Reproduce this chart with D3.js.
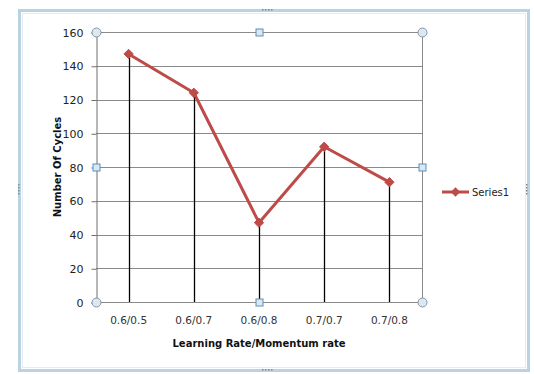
<!DOCTYPE html>
<html>
<head>
<meta charset="utf-8">
<script src="https://cdn.jsdelivr.net/npm/d3@7"></script>
<style>
  html, body { margin: 0; padding: 0; background: #ffffff; }
  svg { display: block; font-family: "DejaVu Sans", Arial, sans-serif; }
</style>
</head>
<body>
<svg id="chart" width="534" height="374"></svg>
<script>
// Category labels (learning rate / momentum rate pairs)
const categories = ["0.6/0.5", "0.6/0.7", "0.6/0.8", "0.7/0.7", "0.7/0.8"];
// Number of cycles for each pair
const cycles = [147, 124, 47, 92, 71];
// Value axis ticks
const yTicks = [0, 20, 40, 60, 80, 100, 120, 140, 160];
const seriesName = "Series1";

const svg = d3.select("#chart");
const plot = { left: 96, right: 422, top: 32, bottom: 302 };
const red = "#be4b48";
const font = "DejaVu Sans, Arial, sans-serif";

// Chart frame
svg.append("rect")
  .attr("x", 19.5).attr("y", 10.5).attr("width", 509).attr("height", 360)
  .attr("fill", "#ffffff").attr("stroke", "#b9d3e2").attr("stroke-width", 3);
svg.append("rect")
  .attr("x", 22.5).attr("y", 13.5).attr("width", 503).attr("height", 354)
  .attr("fill", "none").attr("stroke", "#e3eef4").attr("stroke-width", 1);
// frame grip dots
[[262, 10], [262, 370]].forEach(([gx, gy]) => {
  for (let i = 0; i < 4; i++) {
    svg.append("rect").attr("x", gx + i * 3).attr("y", gy - 1).attr("width", 1.5).attr("height", 1.5).attr("fill", "#7a8a96");
  }
});
[[19, 184], [527, 184]].forEach(([gx, gy]) => {
  for (let i = 0; i < 4; i++) {
    svg.append("rect").attr("x", gx - 1).attr("y", gy + i * 3).attr("width", 1.5).attr("height", 1.5).attr("fill", "#7a8a96");
  }
});

const x = d3.scaleBand().domain(categories).range([plot.left, plot.right]);
const y = d3.scaleLinear().domain([0, 160]).range([plot.bottom, plot.top]);

// Horizontal gridlines
svg.append("g").selectAll("line").data(yTicks).join("line")
  .attr("x1", plot.left).attr("x2", plot.right)
  .attr("y1", d => Math.round(y(d)) + 0.5).attr("y2", d => Math.round(y(d)) + 0.5)
  .attr("stroke", "#8a8a8a").attr("stroke-width", 1);

// Plot area right border
svg.append("line")
  .attr("x1", plot.right + 0.5).attr("x2", plot.right + 0.5)
  .attr("y1", plot.top).attr("y2", plot.bottom)
  .attr("stroke", "#8a8a8a");

// Value axis
const yAxis = d3.axisLeft(y).tickValues(yTicks).tickSize(5).tickPadding(8);
const gy = svg.append("g").attr("transform", `translate(${plot.left + 0.5},0.5)`).call(yAxis);
gy.select(".domain").attr("stroke", "#6f6f6f");
gy.selectAll(".tick line").attr("stroke", "#6f6f6f");
gy.selectAll(".tick text").attr("font-size", 11).attr("fill", "#222").attr("font-family", font);

// Category axis (labels only; baseline is the zero gridline)
const xAxis = d3.axisBottom(x).tickSize(0).tickPadding(15);
const gx = svg.append("g").attr("transform", `translate(0,${plot.bottom})`).call(xAxis);
gx.select(".domain").remove();
gx.selectAll(".tick text").attr("font-size", 10.5).attr("fill", "#333").attr("font-family", font);

// Drop lines from each point to the category axis
const cx = d => x(d) + x.bandwidth() / 2;
svg.append("g").selectAll("line").data(categories).join("line")
  .attr("x1", d => Math.round(cx(d)) + 0.5).attr("x2", d => Math.round(cx(d)) + 0.5)
  .attr("y1", (d, i) => y(cycles[i])).attr("y2", plot.bottom)
  .attr("stroke", "#000").attr("stroke-width", 1.3);

// Series line
const pts = categories.map((c, i) => [cx(c), y(cycles[i])]);
svg.append("path")
  .attr("d", d3.line()(pts))
  .attr("fill", "none").attr("stroke", red).attr("stroke-width", 3).attr("stroke-linejoin", "round");

// Diamond markers
const diamond = d3.symbol().type(d3.symbolDiamond2).size(55);
svg.append("g").selectAll("path").data(pts).join("path")
  .attr("d", diamond)
  .attr("transform", d => `translate(${d[0]},${d[1]})`)
  .attr("fill", red).attr("stroke", red);

// Axis titles
svg.append("text")
  .attr("transform", `translate(61,${(plot.top + plot.bottom) / 2}) rotate(-90)`)
  .attr("text-anchor", "middle").attr("font-size", 10).attr("font-weight", "bold").attr("fill", "#111")
  .attr("font-family", font)
  .text("Number Of Cycles");
svg.append("text")
  .attr("x", (plot.left + plot.right) / 2).attr("y", 347)
  .attr("text-anchor", "middle").attr("font-size", 10).attr("font-weight", "bold").attr("fill", "#111")
  .attr("font-family", font)
  .text("Learning Rate/Momentum rate");

// Legend
const lg = svg.append("g").attr("transform", "translate(442,192)");
lg.append("line").attr("x1", 0).attr("x2", 27).attr("y1", 0).attr("y2", 0)
  .attr("stroke", red).attr("stroke-width", 3);
lg.append("path").attr("d", diamond).attr("transform", "translate(13.5,0)").attr("fill", red);
lg.append("text").attr("x", 30).attr("y", 4).attr("font-size", 10).attr("fill", "#222")
  .attr("font-family", font).text(seriesName);

// Plot area selection handles
const handleFill = "#dde7ef", handleStroke = "#8496a6";
const corners = [[plot.left, plot.top], [plot.right, plot.top], [plot.left, plot.bottom], [plot.right, plot.bottom]];
svg.append("g").selectAll("circle").data(corners).join("circle")
  .attr("cx", d => d[0] + 0.5).attr("cy", d => d[1] + 0.5).attr("r", 4.5)
  .attr("fill", handleFill).attr("stroke", handleStroke);
const mids = [
  [(plot.left + plot.right) / 2, plot.top], [(plot.left + plot.right) / 2, plot.bottom],
  [plot.left, (plot.top + plot.bottom) / 2], [plot.right, (plot.top + plot.bottom) / 2]
];
svg.append("g").selectAll("rect").data(mids).join("rect")
  .attr("x", d => Math.round(d[0]) - 3).attr("y", d => Math.round(d[1]) - 3)
  .attr("width", 7).attr("height", 7)
  .attr("fill", handleFill).attr("stroke", "#5b8fb8");
</script>
</body>
</html>
